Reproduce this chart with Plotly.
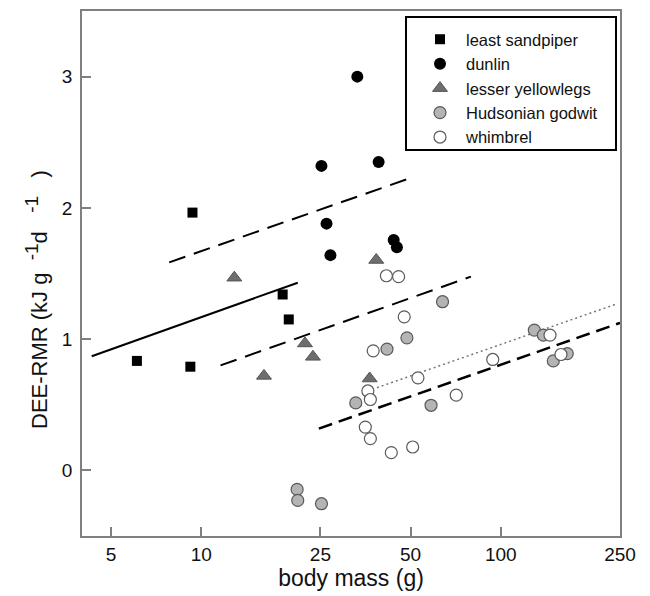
import plotly.graph_objects as go

# ---- data ----
sandpiper_mass = [6.1, 9.2, 9.35, 18.7, 19.6]
sandpiper_dee = [0.834, 0.79, 1.964, 1.34, 1.15]

dunlin_mass = [33.2, 25.2, 39.1, 26.2, 27.0, 43.9, 45.0]
dunlin_dee = [3.0, 2.32, 2.35, 1.88, 1.64, 1.756, 1.70]

yellowlegs_mass = [12.9, 22.2, 23.6, 16.2, 38.4, 36.5]
yellowlegs_dee = [1.468, 0.967, 0.865, 0.72, 1.603, 0.70]

godwit_mass = [63.9, 48.6, 41.7, 32.8, 58.5, 129.4, 138.7, 149.7, 166.7, 20.9, 21.0, 25.2]
godwit_dee = [1.285, 1.01, 0.924, 0.514, 0.496, 1.069, 1.03, 0.834, 0.89, -0.145, -0.229, -0.254]

whimbrel_mass = [41.5, 45.6, 47.6, 37.5, 52.9, 36.0, 36.7, 35.3, 36.7, 43.1, 50.8, 71.0, 94.0, 146.0, 158.8]
whimbrel_dee = [1.483, 1.476, 1.17, 0.911, 0.705, 0.605, 0.54, 0.33, 0.242, 0.135, 0.178, 0.573, 0.845, 1.03, 0.883]

# regression lines (end points)
fit_sandpiper_x = [4.31, 21.0]
fit_sandpiper_y = [0.87, 1.43]
fit_dunlin_x = [7.82, 49.9]
fit_dunlin_y = [1.585, 2.227]
fit_yellowlegs_x = [11.6, 79.5]
fit_yellowlegs_y = [0.80, 1.476]
fit_godwit_x = [24.7, 250.0]
fit_godwit_y = [0.318, 1.124]
fit_whimbrel_x = [35.9, 245.0]
fit_whimbrel_y = [0.605, 1.27]

x_ticks = [5, 10, 25, 50, 100, 250]
y_ticks = [0, 1, 2, 3]

FONT = "Arial, Liberation Sans, Helvetica, sans-serif"

# page body has an 8px margin: the figure is drawn at (8, 8)
OFF = 8
PL, PR, PT, PB = 82, 620, 11, 536  # target plot-area edges in the page

fig = go.Figure()

# lines first (behind markers)
fig.add_trace(go.Scatter(x=fit_sandpiper_x, y=fit_sandpiper_y, mode="lines",
                         line=dict(color="black", width=2), showlegend=False, hoverinfo="skip"))
fig.add_trace(go.Scatter(x=fit_dunlin_x, y=fit_dunlin_y, mode="lines",
                         line=dict(color="black", width=2, dash="17px,9px"), showlegend=False, hoverinfo="skip"))
fig.add_trace(go.Scatter(x=fit_yellowlegs_x, y=fit_yellowlegs_y, mode="lines",
                         line=dict(color="black", width=2, dash="17px,9px"), showlegend=False, hoverinfo="skip"))
fig.add_trace(go.Scatter(x=fit_godwit_x, y=fit_godwit_y, mode="lines",
                         line=dict(color="black", width=2.5, dash="14px,7px"), showlegend=False, hoverinfo="skip"))
fig.add_trace(go.Scatter(x=fit_whimbrel_x, y=fit_whimbrel_y, mode="lines",
                         line=dict(color="#777777", width=1.5, dash="2px,3px"), showlegend=False, hoverinfo="skip"))

fig.add_trace(go.Scatter(x=sandpiper_mass, y=sandpiper_dee, mode="markers", name="least sandpiper",
                         marker=dict(symbol="square", size=10, color="black", line=dict(width=0))))
fig.add_trace(go.Scatter(x=dunlin_mass, y=dunlin_dee, mode="markers", name="dunlin",
                         marker=dict(symbol="circle", size=12, color="black", line=dict(width=0))))
fig.add_trace(go.Scatter(x=yellowlegs_mass, y=yellowlegs_dee, mode="markers", name="lesser yellowlegs",
                         marker=dict(symbol="triangle-up", size=13, color="#6e6e6e",
                                     line=dict(color="#555555", width=1))))
fig.add_trace(go.Scatter(x=godwit_mass, y=godwit_dee, mode="markers", name="Hudsonian godwit",
                         marker=dict(symbol="circle", size=12, color="#b4b4b4",
                                     line=dict(color="#5a5a5a", width=1.2))))
fig.add_trace(go.Scatter(x=whimbrel_mass, y=whimbrel_dee, mode="markers", name="whimbrel",
                         marker=dict(symbol="circle", size=12, color="white",
                                     line=dict(color="#5a5a5a", width=1.2))))

axis_common = dict(
    showline=True, mirror=True, linecolor="#808080", linewidth=1.5,
    ticks="inside", ticklen=9, tickcolor="#808080", tickwidth=1.5,
    showgrid=False, zeroline=False,
    tickfont=dict(family=FONT, size=19, color="#111111"),
    automargin=False,
)

SUP = "<sup><span style='font-size:19px'>-1</span></sup>"
y_title = "DEE-RMR (kJ g  " + SUP + "d   " + SUP + "   )"

fig.update_xaxes(type="log", range=[0.60206, 2.39794], tickvals=x_ticks,
                 ticktext=[str(v) for v in x_ticks],
                 title=dict(text="body mass (g)", font=dict(family=FONT, size=23, color="#111111"), standoff=3),
                 **axis_common)
fig.update_yaxes(range=[-0.5, 3.5], tickvals=y_ticks, ticktext=[str(v) for v in y_ticks],
                 ticklabelstandoff=4,
                 **axis_common)

W, H = PR - PL, PB - PT


def px_x(p):
    return (p - PL) / W


def px_y(p):
    return 1 - (p - PT) / H


# y-axis title placed as a rotated annotation (the reference title is off-centre)
fig.add_annotation(text=y_title, xref="paper", yref="paper", x=px_x(36), y=px_y(300),
                   xanchor="center", yanchor="middle", textangle=-90, showarrow=False,
                   font=dict(family=FONT, size=22, color="#111111"))

# legend frame
fig.add_shape(type="rect", xref="paper", yref="paper",
              x0=px_x(406), x1=px_x(616), y0=px_y(150), y1=px_y(17),
              line=dict(color="black", width=2), fillcolor="white", layer="below")

fig.update_layout(
    width=650, height=596,
    margin=dict(l=PL - OFF, r=650 + OFF - PR, t=PT - OFF, b=596 + OFF - PB, autoexpand=False),
    paper_bgcolor="white", plot_bgcolor="white",
    font=dict(family=FONT, color="#111111"),
    legend=dict(x=px_x(414), y=px_y(22), xanchor="left", yanchor="top",
                bgcolor="rgba(0,0,0,0)", borderwidth=0,
                font=dict(family=FONT, size=16.5, color="#111111"),
                itemwidth=42, tracegroupgap=0),
)

fig.write_html("out.html")
